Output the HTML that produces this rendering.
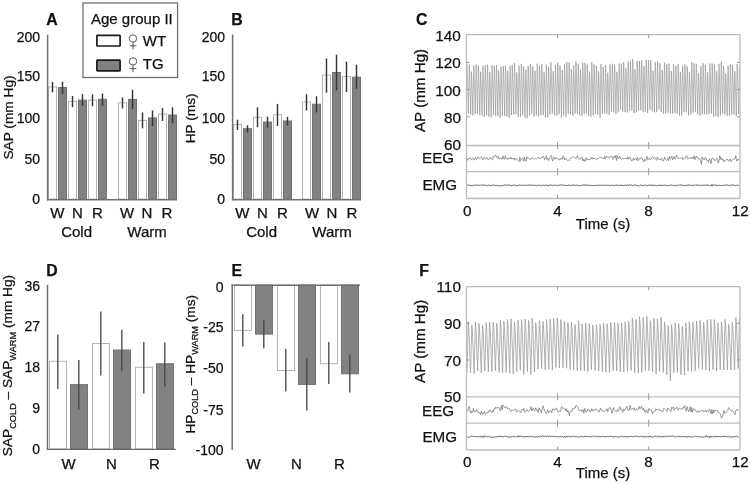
<!DOCTYPE html>
<html><head><meta charset="utf-8"><title>Figure</title>
<style>
html,body{margin:0;padding:0;background:#fff;width:750px;height:485px;overflow:hidden;}
svg{display:block;will-change:transform;}
text{font-family:"Liberation Sans",sans-serif;fill:#111;stroke:#111;stroke-width:0.25px;}
</style></head><body>
<svg width="750" height="485" viewBox="0 0 750 485">
<text x="46.3" y="25.3" font-size="15.8" text-anchor="start" font-weight="bold">A</text>
<rect x="48.5" y="87" width="8" height="112" fill="#fff" stroke="#b4b4b4" stroke-width="1"/>
<rect x="58.5" y="87.5" width="8" height="111.5" fill="#828282" stroke="#747474" stroke-width="1"/>
<rect x="68.5" y="101.4" width="8" height="97.6" fill="#fff" stroke="#b4b4b4" stroke-width="1"/>
<rect x="78.5" y="100.1" width="8" height="98.9" fill="#828282" stroke="#747474" stroke-width="1"/>
<rect x="88.5" y="100.1" width="8" height="98.9" fill="#fff" stroke="#b4b4b4" stroke-width="1"/>
<rect x="98.5" y="99.3" width="8" height="99.7" fill="#828282" stroke="#747474" stroke-width="1"/>
<line x1="52.5" y1="82" x2="52.5" y2="92.3" stroke="#353535" stroke-width="1.45"/>
<line x1="62.5" y1="81.6" x2="62.5" y2="94" stroke="#353535" stroke-width="1.45"/>
<line x1="72.5" y1="96" x2="72.5" y2="107.1" stroke="#353535" stroke-width="1.45"/>
<line x1="82.5" y1="94.1" x2="82.5" y2="105.9" stroke="#353535" stroke-width="1.45"/>
<line x1="92.5" y1="94.4" x2="92.5" y2="106.3" stroke="#353535" stroke-width="1.45"/>
<line x1="102.5" y1="93.5" x2="102.5" y2="106" stroke="#353535" stroke-width="1.45"/>
<rect x="118.5" y="102.8" width="8" height="96.2" fill="#fff" stroke="#b4b4b4" stroke-width="1"/>
<rect x="128.5" y="99.4" width="8" height="99.6" fill="#828282" stroke="#747474" stroke-width="1"/>
<rect x="138.5" y="120.4" width="8" height="78.6" fill="#fff" stroke="#b4b4b4" stroke-width="1"/>
<rect x="148.5" y="117.9" width="8" height="81.1" fill="#828282" stroke="#747474" stroke-width="1"/>
<rect x="158.5" y="114.1" width="8" height="84.9" fill="#fff" stroke="#b4b4b4" stroke-width="1"/>
<rect x="168.5" y="115" width="8" height="84" fill="#828282" stroke="#747474" stroke-width="1"/>
<line x1="122.5" y1="97.5" x2="122.5" y2="108.5" stroke="#353535" stroke-width="1.45"/>
<line x1="132.5" y1="89.7" x2="132.5" y2="109" stroke="#353535" stroke-width="1.45"/>
<line x1="142.5" y1="112.4" x2="142.5" y2="128.3" stroke="#353535" stroke-width="1.45"/>
<line x1="152.5" y1="110.4" x2="152.5" y2="126" stroke="#353535" stroke-width="1.45"/>
<line x1="162.5" y1="108.1" x2="162.5" y2="121" stroke="#353535" stroke-width="1.45"/>
<line x1="172.5" y1="107.3" x2="172.5" y2="123.2" stroke="#353535" stroke-width="1.45"/>
<line x1="47.6" y1="34.6" x2="47.6" y2="200.3" stroke="#707070" stroke-width="1.5"/>
<line x1="46.9" y1="199.7" x2="177" y2="199.7" stroke="#707070" stroke-width="1.6"/>
<text x="40" y="42" font-size="14" text-anchor="end">200</text>
<text x="40" y="81.4" font-size="14" text-anchor="end">150</text>
<text x="40" y="123" font-size="14" text-anchor="end">100</text>
<text x="40" y="164" font-size="14" text-anchor="end">50</text>
<text x="40" y="203.5" font-size="14" text-anchor="end">0</text>
<text x="57.3" y="218" font-size="15" text-anchor="middle">W</text>
<text x="77.3" y="218" font-size="15" text-anchor="middle">N</text>
<text x="97.3" y="218" font-size="15" text-anchor="middle">R</text>
<text x="127" y="218" font-size="15" text-anchor="middle">W</text>
<text x="147" y="218" font-size="15" text-anchor="middle">N</text>
<text x="167" y="218" font-size="15" text-anchor="middle">R</text>
<text x="76.6" y="236.5" font-size="15" text-anchor="middle">Cold</text>
<text x="147" y="236.5" font-size="15" text-anchor="middle">Warm</text>
<text transform="translate(13.2,117.5) rotate(-90)" font-size="13.7" text-anchor="middle">SAP (mm Hg)</text>
<text x="231.3" y="25.3" font-size="15.8" text-anchor="start" font-weight="bold">B</text>
<rect x="233.5" y="124.5" width="8" height="74.5" fill="#fff" stroke="#b4b4b4" stroke-width="1"/>
<rect x="243.5" y="128.7" width="8" height="70.3" fill="#828282" stroke="#747474" stroke-width="1"/>
<rect x="253.5" y="117.3" width="8" height="81.7" fill="#fff" stroke="#b4b4b4" stroke-width="1"/>
<rect x="263.5" y="122" width="8" height="77" fill="#828282" stroke="#747474" stroke-width="1"/>
<rect x="273.5" y="114.7" width="8" height="84.3" fill="#fff" stroke="#b4b4b4" stroke-width="1"/>
<rect x="283.5" y="121" width="8" height="78" fill="#828282" stroke="#747474" stroke-width="1"/>
<line x1="237.5" y1="119.7" x2="237.5" y2="130" stroke="#353535" stroke-width="1.45"/>
<line x1="247.5" y1="125.3" x2="247.5" y2="132.3" stroke="#353535" stroke-width="1.45"/>
<line x1="257.5" y1="107.3" x2="257.5" y2="127.3" stroke="#353535" stroke-width="1.45"/>
<line x1="267.5" y1="116.6" x2="267.5" y2="127.6" stroke="#353535" stroke-width="1.45"/>
<line x1="277.5" y1="103.9" x2="277.5" y2="126" stroke="#353535" stroke-width="1.45"/>
<line x1="287.5" y1="116.8" x2="287.5" y2="125.6" stroke="#353535" stroke-width="1.45"/>
<rect x="302.5" y="102.1" width="8" height="96.9" fill="#fff" stroke="#b4b4b4" stroke-width="1"/>
<rect x="312.5" y="104.2" width="8" height="94.8" fill="#828282" stroke="#747474" stroke-width="1"/>
<rect x="322.5" y="75.1" width="8" height="123.9" fill="#fff" stroke="#b4b4b4" stroke-width="1"/>
<rect x="332.5" y="72.5" width="8" height="126.5" fill="#828282" stroke="#747474" stroke-width="1"/>
<rect x="342.5" y="76.4" width="8" height="122.6" fill="#fff" stroke="#b4b4b4" stroke-width="1"/>
<rect x="352.5" y="77.2" width="8" height="121.8" fill="#828282" stroke="#747474" stroke-width="1"/>
<line x1="306.5" y1="94.2" x2="306.5" y2="110.5" stroke="#353535" stroke-width="1.45"/>
<line x1="316.5" y1="96.3" x2="316.5" y2="112.4" stroke="#353535" stroke-width="1.45"/>
<line x1="326.5" y1="58.5" x2="326.5" y2="92.7" stroke="#353535" stroke-width="1.45"/>
<line x1="336.5" y1="54.7" x2="336.5" y2="90.2" stroke="#353535" stroke-width="1.45"/>
<line x1="346.5" y1="61.6" x2="346.5" y2="92" stroke="#353535" stroke-width="1.45"/>
<line x1="356.5" y1="64.8" x2="356.5" y2="88.8" stroke="#353535" stroke-width="1.45"/>
<line x1="232.6" y1="34.6" x2="232.6" y2="200.3" stroke="#707070" stroke-width="1.5"/>
<line x1="231.9" y1="199.7" x2="361" y2="199.7" stroke="#707070" stroke-width="1.6"/>
<text x="225" y="42" font-size="14" text-anchor="end">200</text>
<text x="225" y="81.4" font-size="14" text-anchor="end">150</text>
<text x="225" y="123" font-size="14" text-anchor="end">100</text>
<text x="225" y="164" font-size="14" text-anchor="end">50</text>
<text x="225" y="203.5" font-size="14" text-anchor="end">0</text>
<text x="242.3" y="218" font-size="15" text-anchor="middle">W</text>
<text x="262.3" y="218" font-size="15" text-anchor="middle">N</text>
<text x="282.3" y="218" font-size="15" text-anchor="middle">R</text>
<text x="312" y="218" font-size="15" text-anchor="middle">W</text>
<text x="332" y="218" font-size="15" text-anchor="middle">N</text>
<text x="352" y="218" font-size="15" text-anchor="middle">R</text>
<text x="261.6" y="236.5" font-size="15" text-anchor="middle">Cold</text>
<text x="332" y="236.5" font-size="15" text-anchor="middle">Warm</text>
<text transform="translate(194.5,118.3) rotate(-90)" font-size="13.7" text-anchor="middle">HP (ms)</text>
<rect x="83" y="3" width="94.6" height="74.5" fill="#fff" stroke="#707070" stroke-width="1.3"/>
<text x="91" y="23.6" font-size="15" text-anchor="start">Age group II</text>
<rect x="96.9" y="35.4" width="23.2" height="10.6" rx="0.6" fill="#fff" stroke="#1a1a1a" stroke-width="1.7"/>
<rect x="96.9" y="60.2" width="23.2" height="10.6" rx="0.6" fill="#808080" stroke="#1a1a1a" stroke-width="1.7"/>
<circle cx="133" cy="38.5" r="3.7" fill="none" stroke="#3a3a3a" stroke-width="0.85"/>
<line x1="133" y1="42.2" x2="133" y2="49.3" stroke="#3a3a3a" stroke-width="0.85"/>
<line x1="129.6" y1="45.8" x2="136.4" y2="45.8" stroke="#3a3a3a" stroke-width="0.85"/>
<circle cx="133" cy="61.4" r="3.7" fill="none" stroke="#3a3a3a" stroke-width="0.85"/>
<line x1="133" y1="65.1" x2="133" y2="72.2" stroke="#3a3a3a" stroke-width="0.85"/>
<line x1="129.6" y1="68.7" x2="136.4" y2="68.7" stroke="#3a3a3a" stroke-width="0.85"/>
<text x="142.8" y="46" font-size="15" text-anchor="start">WT</text>
<text x="142.8" y="69" font-size="15" text-anchor="start">TG</text>
<text x="46.3" y="275.5" font-size="15.8" text-anchor="start" font-weight="bold">D</text>
<rect x="49.5" y="361.3" width="17" height="87.7" fill="#fff" stroke="#b4b4b4" stroke-width="1"/>
<rect x="70.5" y="384.6" width="17" height="64.4" fill="#828282" stroke="#747474" stroke-width="1"/>
<rect x="92.5" y="343.5" width="17" height="105.5" fill="#fff" stroke="#b4b4b4" stroke-width="1"/>
<rect x="113.5" y="350" width="17" height="99" fill="#828282" stroke="#747474" stroke-width="1"/>
<rect x="135.5" y="367.3" width="17" height="81.7" fill="#fff" stroke="#b4b4b4" stroke-width="1"/>
<rect x="156.5" y="363.8" width="17" height="85.2" fill="#828282" stroke="#747474" stroke-width="1"/>
<line x1="57.8" y1="334.6" x2="57.8" y2="389" stroke="#484848" stroke-width="1.35"/>
<line x1="78.8" y1="359.9" x2="78.8" y2="409.6" stroke="#484848" stroke-width="1.35"/>
<line x1="100.8" y1="311.6" x2="100.8" y2="375.4" stroke="#484848" stroke-width="1.35"/>
<line x1="121.8" y1="329.7" x2="121.8" y2="371.2" stroke="#484848" stroke-width="1.35"/>
<line x1="143.8" y1="342" x2="143.8" y2="393.5" stroke="#484848" stroke-width="1.35"/>
<line x1="164.8" y1="342.5" x2="164.8" y2="386.6" stroke="#484848" stroke-width="1.35"/>
<line x1="47.5" y1="284.8" x2="47.5" y2="450" stroke="#707070" stroke-width="1.5"/>
<line x1="46.8" y1="449.4" x2="175.8" y2="449.4" stroke="#666" stroke-width="1.25"/>
<text x="40" y="291" font-size="14" text-anchor="end">36</text>
<text x="40" y="331.3" font-size="14" text-anchor="end">27</text>
<text x="40" y="372.2" font-size="14" text-anchor="end">18</text>
<text x="40" y="413.4" font-size="14" text-anchor="end">9</text>
<text x="40" y="453.5" font-size="14" text-anchor="end">0</text>
<text x="68.5" y="468.5" font-size="15" text-anchor="middle">W</text>
<text x="111.5" y="468.5" font-size="15" text-anchor="middle">N</text>
<text x="154.5" y="468.5" font-size="15" text-anchor="middle">R</text>
<text transform="translate(12,365.5) rotate(-90)" font-size="13.7" text-anchor="middle">SAP<tspan font-size="9.2" dy="3.8">COLD</tspan><tspan dy="-3.8"> – SAP</tspan><tspan font-size="9.2" dy="3.8">WARM</tspan><tspan dy="-3.8"> (mm Hg)</tspan></text>
<text x="231.5" y="275.5" font-size="15.8" text-anchor="start" font-weight="bold">E</text>
<rect x="234.5" y="285" width="17" height="45.4" fill="#fff" stroke="#b4b4b4" stroke-width="1"/>
<rect x="255.5" y="285" width="17" height="49.1" fill="#828282" stroke="#747474" stroke-width="1"/>
<rect x="277.5" y="285" width="17" height="85.5" fill="#fff" stroke="#b4b4b4" stroke-width="1"/>
<rect x="298.5" y="285" width="17" height="99.5" fill="#828282" stroke="#747474" stroke-width="1"/>
<rect x="320.5" y="285" width="17" height="78.7" fill="#fff" stroke="#b4b4b4" stroke-width="1"/>
<rect x="341.5" y="285" width="17" height="88.8" fill="#828282" stroke="#747474" stroke-width="1"/>
<line x1="242.8" y1="314.3" x2="242.8" y2="346.5" stroke="#484848" stroke-width="1.35"/>
<line x1="263.8" y1="320.3" x2="263.8" y2="348.2" stroke="#484848" stroke-width="1.35"/>
<line x1="285.8" y1="349" x2="285.8" y2="391.5" stroke="#484848" stroke-width="1.35"/>
<line x1="306.8" y1="358" x2="306.8" y2="410.5" stroke="#484848" stroke-width="1.35"/>
<line x1="328.8" y1="342" x2="328.8" y2="384" stroke="#484848" stroke-width="1.35"/>
<line x1="349.8" y1="354.5" x2="349.8" y2="392.6" stroke="#484848" stroke-width="1.35"/>
<line x1="232.2" y1="284.6" x2="232.2" y2="450" stroke="#707070" stroke-width="1.5"/>
<line x1="231.6" y1="285.3" x2="360" y2="285.3" stroke="#707070" stroke-width="1.6"/>
<text x="223.5" y="291.5" font-size="14" text-anchor="end">0</text>
<text x="223.5" y="332.2" font-size="14" text-anchor="end">-25</text>
<text x="223.5" y="373.3" font-size="14" text-anchor="end">-50</text>
<text x="223.5" y="414.5" font-size="14" text-anchor="end">-75</text>
<text x="223.5" y="454.9" font-size="14" text-anchor="end">-100</text>
<text x="253.5" y="469" font-size="15" text-anchor="middle">W</text>
<text x="296.5" y="469" font-size="15" text-anchor="middle">N</text>
<text x="339.5" y="469" font-size="15" text-anchor="middle">R</text>
<text transform="translate(194.7,364.2) rotate(-90)" font-size="13.7" text-anchor="middle">HP<tspan font-size="9.2" dy="3.3">COLD</tspan><tspan dy="-3.3"> – HP</tspan><tspan font-size="9.2" dy="3.3">WARM</tspan><tspan dy="-3.3"> (ms)</tspan></text>
<text x="415.9" y="25.1" font-size="15.8" text-anchor="start" font-weight="bold">C</text>
<polyline points="466.93,62.44 467.28,67.68 468.44,113.37 469.23,64.56 469.56,69.44 470.69,113.98 471.47,71.59 471.8,75.83 472.92,115.46 473.74,65.41 474.09,70.42 475.26,113.73 476.05,64.33 476.39,69.27 477.53,113.85 478.32,65.49 478.66,70.33 479.79,115.38 480.59,71.72 480.93,76.09 482.08,115.8 482.89,65.68 483.23,70.69 484.38,117.18 485.18,65.54 485.52,70.7 486.65,115.59 487.44,64.77 487.78,69.85 488.91,116.78 489.7,71.83 490.04,76.33 491.16,117.47 491.96,65.21 492.3,70.44 493.45,114.79 494.22,66.02 494.55,70.9 495.65,115.78 496.43,65.29 496.77,70.34 497.88,116.34 498.68,70.67 499.01,75.23 500.14,118.04 500.94,66.58 501.28,71.73 502.41,115.95 503.21,66.11 503.55,71.1 504.69,115.86 505.47,65.59 505.81,70.62 506.94,116.6 507.73,70.88 508.07,75.45 509.2,117.72 509.98,65.87 510.31,71.06 511.41,115.17 512.2,65.06 512.53,70.07 513.65,114.28 514.45,62.97 514.79,68.1 515.93,114.09 516.74,72.46 517.08,76.63 518.22,116.55 519.01,65.55 519.35,70.65 520.48,116.43 521.29,63.8 521.63,69.06 522.79,115.11 523.57,66.36 523.91,71.23 525.03,117.88 525.82,69.63 526.16,74.45 527.29,118.23 528.09,65.83 528.44,71.07 529.58,115.18 530.38,64.17 530.72,69.27 531.86,113.61 532.65,66.14 532.98,70.89 534.11,116.36 534.9,70.89 535.24,75.43 536.37,115.29 537.17,63.64 537.51,68.81 538.65,116.67 539.44,65.84 539.78,70.92 540.92,115.28 541.72,64.27 542.06,69.37 543.19,115.23 543.99,71.91 544.33,76.24 545.46,117.4 546.25,64.55 546.6,69.84 547.73,117.2 548.53,66.82 548.87,71.86 550.01,114.42 550.81,62.04 551.16,67.28 552.31,113.55 553.1,71.18 553.44,75.42 554.57,115.33 555.37,64.93 555.72,69.97 556.86,115.47 557.65,62.69 557.99,67.97 559.11,114.33 559.91,65.36 560.25,70.25 561.4,117.37 562.2,70.1 562.54,74.83 563.68,115.32 564.48,64.42 564.83,69.51 565.97,116.68 566.76,61.99 567.1,67.46 568.24,113.86 569.04,62.51 569.38,67.64 570.52,114.49 571.32,69.15 571.66,73.68 572.8,115.92 573.6,65.38 573.94,70.43 575.08,113.59 575.87,61.63 576.21,66.82 577.34,114.09 578.14,63.66 578.48,68.71 579.62,115.35 580.42,70.07 580.76,74.6 581.9,116.04 582.68,62.66 583.02,68 584.14,113.89 584.92,62.79 585.26,67.9 586.39,113.45 587.18,64.39 587.52,69.3 588.65,115.6 589.44,71.6 589.78,76 590.92,116.57 591.72,62.08 592.07,67.53 593.23,115.3 594.02,64.43 594.35,69.52 595.48,113.79 596.29,65.57 596.63,70.39 597.78,114.63 598.59,71.51 598.93,75.82 600.09,117.62 600.89,64.21 601.23,69.55 602.37,113.84 603.18,66.92 603.52,71.61 604.67,113.54 605.46,65.01 605.8,69.87 606.93,113.66 607.72,72.67 608.06,76.76 609.18,115.06 609.99,64.39 610.34,69.45 611.49,111.69 612.28,63.72 612.62,68.52 613.75,112.4 614.53,64.37 614.87,69.18 615.99,113.87 616.79,71.72 617.13,75.93 618.26,112.3 619.06,63.51 619.4,68.39 620.54,109.47 621.32,63.51 621.66,68.11 622.77,111.66 623.57,62.28 623.92,67.22 625.06,112.12 625.85,68.34 626.19,72.72 627.33,112.51 628.12,61.46 628.45,66.57 629.58,110.41 630.38,61.15 630.72,66.08 631.85,110.38 632.64,59 632.98,64.14 634.12,113.02 634.9,69.35 635.24,73.72 636.36,112.35 637.14,60.9 637.47,66.04 638.58,110.83 639.37,60.97 639.71,65.96 640.83,110.37 641.61,60.11 641.95,65.13 643.06,112.28 643.86,66.26 644.2,70.86 645.33,111.83 646.13,59.66 646.48,64.88 647.62,113.06 648.41,60.27 648.75,65.55 649.89,109.73 650.68,59.99 651.03,64.97 652.16,111.51 652.96,70.74 653.3,74.82 654.43,112.44 655.23,62.37 655.57,67.38 656.7,112.12 657.52,61.59 657.87,66.64 659.03,109.67 659.82,63.14 660.16,67.8 661.3,112.32 662.11,70.05 662.45,74.27 663.61,113.82 664.4,62.61 664.73,67.73 665.86,113.48 666.66,64.29 667,69.21 668.15,112.64 668.95,63.68 669.29,68.57 670.44,114.01 671.24,71.04 671.58,75.34 672.72,113.84 673.53,64.11 673.87,69.08 675.02,112.96 675.82,65.8 676.16,70.52 677.31,114 678.1,63.89 678.44,68.9 679.57,115.47 680.35,71.94 680.69,76.29 681.8,115.53 682.59,65.72 682.93,70.7 684.05,112.28 684.84,64.47 685.18,69.25 686.31,112.3 687.1,66.21 687.44,70.82 688.57,115.48 689.38,71.77 689.72,76.14 690.88,114.65 691.68,62.32 692.02,67.55 693.15,112.67 693.95,63.35 694.29,68.28 695.43,111.74 696.22,63.88 696.57,68.67 697.7,114.29 698.49,72.84 698.83,76.99 699.96,115.48 700.76,66.08 701.1,71.02 702.25,114.2 703.04,63.2 703.37,68.3 704.49,114.21 705.3,64.8 705.64,69.74 706.78,114.52 707.58,72.29 707.91,76.51 709.04,114.1 709.84,63.26 710.18,68.34 711.31,113.51 712.1,63.39 712.44,68.4 713.57,116.8 714.37,64.43 714.71,69.66 715.85,116 716.65,71.36 717,75.82 718.14,117 718.94,63.86 719.28,69.17 720.42,115.45 721.21,61.43 721.55,66.83 722.67,113.41 723.46,65.96 723.8,70.7 724.93,114.25 725.71,73.42 726.05,77.5 727.17,116.06 727.97,65.83 728.31,70.85 729.45,115.52 730.24,64.37 730.58,69.48 731.71,114.63 732.5,64.85 732.84,69.83 733.97,114.39 734.78,71.28 735.13,75.59 736.29,116.23 737.09,63.74 737.43,68.99 738.58,113.99 739.37,65.2" fill="none" stroke="#858585" stroke-width="0.55" stroke-linejoin="miter" stroke-miterlimit="2"/>
<polyline points="467,160.91 467.8,158.37 468.6,159.31 469.4,158.01 470.2,157.9 471,159.25 471.8,159.66 472.6,158.38 473.4,158.53 474.2,160.21 475,158.17 475.8,157.23 476.6,159.63 477.4,158.47 478.2,156.75 479,158.47 479.8,158.63 480.6,157.65 481.4,156.89 482.2,158.86 483,159.82 483.8,157.87 484.6,157.08 485.4,158.84 486.2,158.92 487,157.62 487.8,159.39 488.6,159.85 489.4,158.41 490.2,157.26 491,158.87 491.8,158.79 492.6,159.49 493.4,156.08 494.2,156.85 495,156.34 495.8,155.01 496.6,157.51 497.4,158.08 498.2,156.24 499,158.99 499.8,158.36 500.6,158.11 501.4,158.24 502.2,159.26 503,156.07 503.8,159 504.6,159.04 505.4,155.55 506.2,158.87 507,158.06 507.8,159.47 508.6,158.02 509.4,158.26 510.2,159.02 511,156.99 511.8,159.16 512.6,158.21 513.4,159.28 514.2,157.85 515,160.35 515.8,159.66 516.6,158.34 517.4,159.71 518.2,160.75 519,161.71 519.8,157.03 520.6,160.7 521.4,159.61 522.2,158.73 523,157.73 523.8,161.2 524.6,157.45 525.4,160.32 526.2,161.16 527,156.76 527.8,158.53 528.6,157.93 529.4,158.61 530.2,159.16 531,159.38 531.8,157.73 532.6,158.25 533.4,158.81 534.2,159.19 535,158.68 535.8,158.17 536.6,158.99 537.4,158.29 538.2,157.66 539,157.24 539.8,158.79 540.6,158.47 541.4,157.94 542.2,157.79 543,156.13 543.8,157.19 544.6,159.71 545.4,157.34 546.2,155.63 547,159.49 547.8,158.19 548.6,160.76 549.4,157.46 550.2,156.77 551,155.27 551.8,158.64 552.6,161.11 553.4,156.85 554.2,157.63 555,159.38 555.8,157.44 556.6,158.34 557.4,158.1 558.2,159.21 559,160.16 559.8,158.53 560.6,159.65 561.4,158.05 562.2,159.15 563,155.64 563.8,156.85 564.6,159.78 565.4,157.81 566.2,159.61 567,159.54 567.8,160.81 568.6,160.05 569.4,160.48 570.2,158.8 571,157.62 571.8,157.38 572.6,157.38 573.4,156.59 574.2,157.52 575,158.2 575.8,158.9 576.6,157.65 577.4,155.48 578.2,157.93 579,158.26 579.8,159.44 580.6,159.14 581.4,157.46 582.2,157.31 583,161.09 583.8,159.08 584.6,161.12 585.4,161.63 586.2,157.5 587,159.66 587.8,159.49 588.6,159.49 589.4,159.47 590.2,159 591,159.22 591.8,156.98 592.6,159.19 593.4,157.96 594.2,159 595,158.07 595.8,159.27 596.6,159.57 597.4,158.71 598.2,158.52 599,158.41 599.8,157.54 600.6,157.81 601.4,157.43 602.2,158.49 603,158.18 603.8,159.09 604.6,155.91 605.4,159.15 606.2,156.51 607,156.45 607.8,157.09 608.6,156.91 609.4,158.26 610.2,156.52 611,155.86 611.8,156.44 612.6,159.33 613.4,157.96 614.2,156.03 615,157.75 615.8,155.35 616.6,160.54 617.4,155.62 618.2,158.21 619,158.41 619.8,156.13 620.6,158.52 621.4,159.37 622.2,158.65 623,158.05 623.8,159.11 624.6,158.48 625.4,158.55 626.2,158.16 627,159.19 627.8,156.85 628.6,159.42 629.4,157.79 630.2,157.14 631,159.43 631.8,161.08 632.6,160.13 633.4,158.08 634.2,160.22 635,158.56 635.8,159.62 636.6,160.08 637.4,157.08 638.2,160.95 639,158.81 639.8,159.08 640.6,157.89 641.4,157.71 642.2,158.32 643,160.92 643.8,161.79 644.6,159.33 645.4,160.99 646.2,158.9 647,156.41 647.8,159.88 648.6,159.76 649.4,158.12 650.2,159.32 651,159.49 651.8,157.48 652.6,156.53 653.4,158.13 654.2,158.03 655,157.85 655.8,159.5 656.6,160.21 657.4,156.93 658.2,158.88 659,159.93 659.8,159.31 660.6,160.02 661.4,158.17 662.2,159.63 663,161.21 663.8,159.45 664.6,157.06 665.4,159.48 666.2,160.53 667,159.49 667.8,157.87 668.6,160.74 669.4,156.26 670.2,159.03 671,158.22 671.8,156.18 672.6,159.98 673.4,158.38 674.2,156.46 675,159.21 675.8,157.59 676.6,155.37 677.4,157.29 678.2,158.41 679,158.69 679.8,157.88 680.6,157.79 681.4,158.16 682.2,157.47 683,159.64 683.8,158.41 684.6,158.3 685.4,158.16 686.2,155.69 687,156.1 687.8,159.16 688.6,158.19 689.4,157.66 690.2,158.17 691,157.2 691.8,158.85 692.6,157.24 693.4,158.72 694.2,155.83 695,159.66 695.8,157.06 696.6,156 697.4,157.9 698.2,158.06 699,159.32 699.8,158.35 700.6,160.31 701.4,164.35 702.2,156.91 703,159.4 703.8,158.85 704.6,160.01 705.4,157.11 706.2,158.52 707,160.74 707.8,160.04 708.6,162.28 709.4,158.78 710.2,160.17 711,163.95 711.8,158.28 712.6,157.98 713.4,159.3 714.2,159.17 715,160.81 715.8,159.69 716.6,158.01 717.4,159.72 718.2,163.12 719,161.34 719.8,155.71 720.6,159.36 721.4,157.87 722.2,160.2 723,159.15 723.8,161.94 724.6,160.42 725.4,160.62 726.2,159.48 727,158.95 727.8,159.97 728.6,161.26 729.4,160.22 730.2,158.97 731,161.61 731.8,160.24 732.6,159.66 733.4,158.74 734.2,159.15 735,158.81 735.8,155.71 736.6,161.08 737.4,160.21 738.2,159.01 739,160.5" fill="none" stroke="#707070" stroke-width="0.7" stroke-linejoin="miter" stroke-miterlimit="2"/>
<polyline points="467,185.29 467.7,185.45 468.4,184.72 469.1,185.34 469.8,185.03 470.5,185.84 471.2,185.57 471.9,185.59 472.6,185.28 473.3,185.49 474,185.5 474.7,185.2 475.4,185.15 476.1,185.27 476.8,185.12 477.5,185.12 478.2,185.21 478.9,185.08 479.6,185.53 480.3,184.82 481,185.55 481.7,185.11 482.4,185.14 483.1,184.89 483.8,185.26 484.5,185.23 485.2,185.36 485.9,185.14 486.6,185.33 487.3,185.85 488,185.42 488.7,185.13 489.4,185.59 490.1,185.26 490.8,185.48 491.5,185.49 492.2,185.18 492.9,184.72 493.6,185.2 494.3,185.47 495,185.19 495.7,185.43 496.4,185.6 497.1,185.14 497.8,185.67 498.5,185.79 499.2,185.63 499.9,185.65 500.6,185.63 501.3,185.98 502,185.36 502.7,185.3 503.4,185.48 504.1,185.03 504.8,184.83 505.5,185.03 506.2,185.41 506.9,185.44 507.6,184.84 508.3,184.73 509,185.2 509.7,185.24 510.4,185.29 511.1,185.5 511.8,185.67 512.5,185.37 513.2,185.49 513.9,184.97 514.6,184.94 515.3,185.37 516,185.5 516.7,185.52 517.4,185.48 518.1,185.54 518.8,185.54 519.5,184.77 520.2,185.08 520.9,185.44 521.6,185.48 522.3,184.84 523,185.65 523.7,185.17 524.4,185.23 525.1,185.38 525.8,185.53 526.5,184.87 527.2,185.6 527.9,185.32 528.6,185.07 529.3,185.22 530,184.64 530.7,185.1 531.4,185.35 532.1,185.09 532.8,185.2 533.5,185.26 534.2,185.31 534.9,185.61 535.6,185.29 536.3,185.22 537,185.46 537.7,185.93 538.4,185.2 539.1,185.45 539.8,184.82 540.5,185.71 541.2,185.5 541.9,185.7 542.6,185.28 543.3,184.99 544,185.57 544.7,185.53 545.4,185.04 546.1,184.86 546.8,185.44 547.5,185.25 548.2,186.09 548.9,185.11 549.6,185.14 550.3,185.27 551,184.8 551.7,185.03 552.4,185.8 553.1,185.26 553.8,185.12 554.5,184.92 555.2,185.48 555.9,185.5 556.6,185.38 557.3,185.18 558,185.39 558.7,185.42 559.4,185.09 560.1,185.49 560.8,184.66 561.5,184.91 562.2,185.21 562.9,185.27 563.6,184.95 564.3,185.4 565,185.62 565.7,185.44 566.4,185.37 567.1,185.55 567.8,185.42 568.5,184.96 569.2,185.24 569.9,185.69 570.6,184.96 571.3,185.32 572,185.18 572.7,185.03 573.4,184.99 574.1,185.33 574.8,185.4 575.5,185.39 576.2,184.86 576.9,185.21 577.6,185.4 578.3,185.59 579,185.5 579.7,185.55 580.4,185.63 581.1,185.55 581.8,185.05 582.5,185.32 583.2,185.08 583.9,184.58 584.6,184.79 585.3,185.93 586,184.96 586.7,184.62 587.4,185.12 588.1,185.76 588.8,185.29 589.5,185.42 590.2,185.22 590.9,185.27 591.6,185.68 592.3,185.54 593,185.27 593.7,185.57 594.4,185.62 595.1,185.23 595.8,185.38 596.5,185.38 597.2,185.1 597.9,185.65 598.6,185.25 599.3,185.11 600,184.79 600.7,184.92 601.4,185.76 602.1,184.96 602.8,185.43 603.5,185.19 604.2,185.45 604.9,185.48 605.6,185.07 606.3,185.21 607,185.33 607.7,185.33 608.4,185.29 609.1,185.21 609.8,185.49 610.5,185.7 611.2,185.46 611.9,185.08 612.6,185.42 613.3,185.32 614,185.44 614.7,185.86 615.4,185.24 616.1,185.3 616.8,185.03 617.5,185.21 618.2,185.13 618.9,185.78 619.6,185.39 620.3,185.13 621,185.88 621.7,184.9 622.4,185.56 623.1,185.61 623.8,185.47 624.5,185.22 625.2,185.26 625.9,185.2 626.6,185.54 627.3,184.6 628,185.15 628.7,185.35 629.4,185.12 630.1,184.75 630.8,185.23 631.5,185.07 632.2,185.54 632.9,185.72 633.6,185.32 634.3,184.72 635,185.24 635.7,185.02 636.4,185.51 637.1,185.81 637.8,185.4 638.5,185.91 639.2,185.76 639.9,185.51 640.6,185.04 641.3,185.36 642,184.9 642.7,185.65 643.4,185.37 644.1,185.75 644.8,185.43 645.5,184.76 646.2,185.54 646.9,185.62 647.6,185.85 648.3,185.05 649,185.07 649.7,185.36 650.4,185.03 651.1,184.93 651.8,185.01 652.5,186.12 653.2,185.15 653.9,185.03 654.6,185.2 655.3,185.33 656,185.72 656.7,185.62 657.4,185.57 658.1,185.34 658.8,185.38 659.5,185.14 660.2,184.88 660.9,185.95 661.6,185.19 662.3,185.64 663,185.23 663.7,185.3 664.4,185.28 665.1,184.91 665.8,185.31 666.5,185.44 667.2,185.58 667.9,185.48 668.6,185.64 669.3,185.42 670,185.33 670.7,184.73 671.4,185.16 672.1,185.8 672.8,185.36 673.5,185.57 674.2,185.26 674.9,185.12 675.6,185.94 676.3,185.43 677,185.78 677.7,185.49 678.4,185.24 679.1,184.65 679.8,185.35 680.5,184.85 681.2,184.65 681.9,185.7 682.6,185.54 683.3,185.52 684,185.34 684.7,185.31 685.4,185.45 686.1,185.37 686.8,185.35 687.5,185.55 688.2,184.58 688.9,185.59 689.6,185.13 690.3,185.58 691,185.68 691.7,185.07 692.4,185.56 693.1,185.56 693.8,185.1 694.5,185.15 695.2,185.34 695.9,184.63 696.6,185.17 697.3,185.36 698,185.17 698.7,184.82 699.4,185.19 700.1,185.76 700.8,185.7 701.5,185.27 702.2,185.06 702.9,185.3 703.6,185.31 704.3,185.1 705,185.2 705.7,185.49 706.4,185.58 707.1,184.56 707.8,185.6 708.5,185.34 709.2,185.65 709.9,185.3 710.6,185.43 711.3,185.8 712,184.4 712.7,185.78 713.4,185.36 714.1,184.75 714.8,184.5 715.5,185.4 716.2,184.99 716.9,185.6 717.6,185.37 718.3,185.26 719,185.6 719.7,185.36 720.4,185.53 721.1,185.55 721.8,185.4 722.5,185.54 723.2,185.54 723.9,184.89 724.6,185.22 725.3,185.26 726,185.19 726.7,184.82 727.4,185.13 728.1,185.4 728.8,185.36 729.5,185.76 730.2,185.12 730.9,185.17 731.6,185.13 732.3,185.2 733,185.12 733.7,184.74 734.4,185.4 735.1,185.6 735.8,185.64 736.5,184.97 737.2,185.24 737.9,185.86 738.6,185.27 739.3,185.41" fill="none" stroke="#555" stroke-width="0.95" stroke-linejoin="miter" stroke-miterlimit="2"/>
<line x1="466.5" y1="34.6" x2="740" y2="34.6" stroke="#bcbcbc" stroke-width="1.3"/>
<line x1="466.5" y1="145.5" x2="740" y2="145.5" stroke="#bcbcbc" stroke-width="1.3"/>
<line x1="466.5" y1="171.7" x2="740" y2="171.7" stroke="#bcbcbc" stroke-width="1.3"/>
<line x1="466.5" y1="198.5" x2="740" y2="198.5" stroke="#bcbcbc" stroke-width="1.3"/>
<line x1="466.5" y1="34.6" x2="466.5" y2="198.5" stroke="#bcbcbc" stroke-width="1.3"/>
<line x1="740" y1="34.6" x2="740" y2="198.5" stroke="#bcbcbc" stroke-width="1.3"/>
<line x1="557.6" y1="34.6" x2="557.6" y2="38.1" stroke="#9a9a9a" stroke-width="1"/>
<line x1="557.6" y1="142" x2="557.6" y2="149" stroke="#9a9a9a" stroke-width="1"/>
<line x1="557.6" y1="168.2" x2="557.6" y2="175.2" stroke="#9a9a9a" stroke-width="1"/>
<line x1="557.6" y1="195" x2="557.6" y2="198.5" stroke="#9a9a9a" stroke-width="1"/>
<line x1="648.7" y1="34.6" x2="648.7" y2="38.1" stroke="#9a9a9a" stroke-width="1"/>
<line x1="648.7" y1="142" x2="648.7" y2="149" stroke="#9a9a9a" stroke-width="1"/>
<line x1="648.7" y1="168.2" x2="648.7" y2="175.2" stroke="#9a9a9a" stroke-width="1"/>
<line x1="648.7" y1="195" x2="648.7" y2="198.5" stroke="#9a9a9a" stroke-width="1"/>
<line x1="466.5" y1="62.4" x2="469.5" y2="62.4" stroke="#9a9a9a" stroke-width="1"/>
<line x1="737" y1="62.4" x2="740" y2="62.4" stroke="#9a9a9a" stroke-width="1"/>
<line x1="466.5" y1="89.6" x2="469.5" y2="89.6" stroke="#9a9a9a" stroke-width="1"/>
<line x1="737" y1="89.6" x2="740" y2="89.6" stroke="#9a9a9a" stroke-width="1"/>
<line x1="466.5" y1="116.8" x2="469.5" y2="116.8" stroke="#9a9a9a" stroke-width="1"/>
<line x1="737" y1="116.8" x2="740" y2="116.8" stroke="#9a9a9a" stroke-width="1"/>
<text x="460.9" y="41.05" font-size="15.3" text-anchor="end">140</text>
<text x="460.9" y="68.05" font-size="15.3" text-anchor="end">120</text>
<text x="460.9" y="95.55" font-size="15.3" text-anchor="end">100</text>
<text x="460.9" y="123.05" font-size="15.3" text-anchor="end">80</text>
<text x="460.9" y="150.45" font-size="15.3" text-anchor="end">60</text>
<text x="454.2" y="163.4" font-size="15.2" text-anchor="end">EEG</text>
<text x="457" y="190.4" font-size="15.2" text-anchor="end">EMG</text>
<text x="467.2" y="216.2" font-size="15.3" text-anchor="middle">0</text>
<text x="557.5" y="216.2" font-size="15.3" text-anchor="middle">4</text>
<text x="648.5" y="216.2" font-size="15.3" text-anchor="middle">8</text>
<text x="740.3" y="216.2" font-size="15.3" text-anchor="middle">12</text>
<text x="603" y="228.6" font-size="15" text-anchor="middle">Time (s)</text>
<text transform="translate(425,90.45) rotate(-90)" font-size="15.2" text-anchor="middle">AP (mm Hg)</text>
<text x="419.2" y="275.6" font-size="15.8" text-anchor="start" font-weight="bold">F</text>
<polyline points="467,372.18 468.24,321.78 468.77,326.82 470.54,372.67 471.8,324.82 472.33,329.61 474.13,373.53 475.37,322.17 475.9,327.31 477.68,370.98 478.95,323.39 479.49,328.15 481.31,372.88 482.54,324.96 483.07,329.75 484.84,371.13 486.07,322.62 486.59,327.47 488.35,371.74 489.59,321.94 490.12,326.92 491.9,371.93 493.15,322.23 493.69,327.2 495.49,370.59 496.74,323.05 497.28,327.8 499.07,372.53 500.32,320.35 500.85,325.57 502.63,372.73 503.87,321.3 504.39,326.45 506.16,372.3 507.4,319.57 507.94,324.85 509.71,373.13 510.95,318.83 511.48,324.26 513.25,373.8 514.48,321.77 515.01,326.97 516.78,371.46 518,320.26 518.53,325.38 520.27,370.34 521.52,319.63 522.06,324.7 523.85,374.2 525.09,319.17 525.63,324.67 527.41,371.55 528.64,320.46 529.17,325.57 530.94,374.51 532.18,318.41 532.71,324.02 534.49,372.04 535.75,322.66 536.29,327.6 538.08,368.98 539.34,320.59 539.88,325.43 541.68,368.48 542.93,321.26 543.47,325.98 545.25,369.79 546.5,319.47 547.04,324.5 548.83,369.32 550.07,319.3 550.61,324.3 552.39,370.16 553.64,318.38 554.17,323.55 555.96,367.33 557.19,317.94 557.72,322.88 559.48,367.74 560.74,319.6 561.29,324.41 563.09,368.01 564.32,321.43 564.85,326.09 566.62,368.27 567.85,322.48 568.38,327.06 570.14,369.69 571.39,322.23 571.92,326.98 573.7,370.04 574.95,324.39 575.48,328.95 577.27,370.89 578.5,320.67 579.03,325.69 580.79,370.91 582.04,323.8 582.57,328.51 584.35,370.9 585.59,322.92 586.13,327.72 587.9,371.76 589.15,323.77 589.69,328.57 591.48,369.64 592.75,325.09 593.3,329.54 595.12,370.53 596.39,324.84 596.93,329.41 598.75,371.01 600.01,324.32 600.55,328.99 602.35,371.94 603.59,322.93 604.12,327.83 605.9,372.48 607.16,323.72 607.7,328.59 609.51,372.33 610.78,322.48 611.33,327.46 613.14,370.51 614.39,322.36 614.92,327.17 616.7,370.97 617.95,323.48 618.49,328.23 620.27,371.87 621.52,323.03 622.06,327.91 623.84,371.94 625.1,321.87 625.64,326.87 627.45,371.3 628.72,321.13 629.26,326.15 631.08,370.51 632.34,318.12 632.88,323.36 634.68,372.78 635.94,319.32 636.47,324.67 638.27,373.12 639.52,316.6 640.06,322.25 641.84,372.53 643.11,317.12 643.65,322.66 645.45,370.68 646.7,316.14 647.24,321.6 649.02,370.67 650.27,320.57 650.8,325.58 652.58,371.68 653.82,318.14 654.36,323.49 656.14,374.01 657.38,318.78 657.91,324.31 659.67,371.47 660.93,317.29 661.47,322.71 663.27,372.51 664.52,322.09 665.05,327.13 666.84,374.88 668.07,325.71 668.6,330.63 670.35,381 671.59,324.51 672.12,330.16 673.89,372.72 675.11,322.78 675.63,327.77 677.37,372.23 678.63,323.5 679.17,328.37 680.96,374.71 682.21,326.23 682.75,331.07 684.53,375.05 685.78,322.77 686.31,328 688.08,371.24 689.32,321.71 689.85,326.67 691.62,371.35 692.87,322.03 693.41,326.96 695.21,370.8 696.44,321.16 696.98,326.12 698.74,368.39 700.02,320.48 700.56,325.27 702.38,369.3 703.62,322.39 704.15,327.08 705.91,370 707.14,319.75 707.66,324.77 709.41,370.87 710.67,319.18 711.22,324.35 713.02,369.76 714.28,319.59 714.82,324.61 716.62,371.11 717.89,322.74 718.44,327.57 720.25,369.82 721.51,321.98 722.04,326.76 723.84,370.01 725.08,319.38 725.62,324.44 727.4,369.75 728.65,324.11 729.19,328.67 730.97,369.76 732.23,322.22 732.78,326.97 734.58,370.12 735.85,317.67 736.39,322.92 738.2,368.49 739.46,317.38" fill="none" stroke="#949494" stroke-width="0.7" stroke-linejoin="miter" stroke-miterlimit="2"/>
<polyline points="467,410.65 467.8,410.88 468.6,406.7 469.4,407.01 470.2,412.4 471,410.94 471.8,413.14 472.6,411.84 473.4,408.39 474.2,412.16 475,411.37 475.8,411.19 476.6,409.51 477.4,411.36 478.2,411.18 479,413.22 479.8,412.42 480.6,414.61 481.4,411.26 482.2,413.89 483,414.3 483.8,412.13 484.6,411.36 485.4,414.69 486.2,413.92 487,412.33 487.8,412.96 488.6,410.8 489.4,411.53 490.2,409.93 491,411.73 491.8,412.82 492.6,410.42 493.4,411.91 494.2,408.55 495,409.31 495.8,406.97 496.6,408.17 497.4,407.95 498.2,407.45 499,407.4 499.8,410.15 500.6,410.67 501.4,405.45 502.2,409.63 503,404.8 503.8,406.49 504.6,407.04 505.4,408.11 506.2,406.43 507,407.45 507.8,408.97 508.6,408.24 509.4,408.74 510.2,410.84 511,411.6 511.8,410.03 512.6,410.22 513.4,410.52 514.2,409.76 515,409.72 515.8,409.02 516.6,412.24 517.4,411.23 518.2,410.49 519,411.06 519.8,411.31 520.6,413.09 521.4,409.89 522.2,409.06 523,410.28 523.8,408.49 524.6,412.42 525.4,411.77 526.2,411.08 527,409.67 527.8,410.93 528.6,411.28 529.4,410.66 530.2,409.35 531,406.64 531.8,411.01 532.6,409.06 533.4,408.09 534.2,411.16 535,410.59 535.8,407.72 536.6,410.43 537.4,409.98 538.2,412.63 539,407.73 539.8,409.85 540.6,409.9 541.4,413.22 542.2,409.39 543,405.74 543.8,408.46 544.6,411.46 545.4,412.33 546.2,413.73 547,411.32 547.8,409.9 548.6,413.08 549.4,411.28 550.2,410.66 551,410.88 551.8,412.9 552.6,408.91 553.4,408.82 554.2,410.21 555,410.07 555.8,408.74 556.6,407.88 557.4,410.58 558.2,412.26 559,411.09 559.8,411.18 560.6,411.85 561.4,406.54 562.2,407.59 563,408.57 563.8,407.89 564.6,408.17 565.4,410.38 566.2,408.77 567,411.91 567.8,410.45 568.6,412.56 569.4,415.62 570.2,410.98 571,411.64 571.8,411.49 572.6,408.52 573.4,409.19 574.2,407.89 575,408.19 575.8,405.7 576.6,405.54 577.4,406.79 578.2,408.16 579,410.66 579.8,410.21 580.6,410.2 581.4,410.34 582.2,411.87 583,409.65 583.8,413.22 584.6,408.44 585.4,409.51 586.2,412.31 587,411.51 587.8,409.39 588.6,410.32 589.4,409.57 590.2,412.1 591,411.08 591.8,408.68 592.6,411.15 593.4,410.01 594.2,410.35 595,409.91 595.8,408.73 596.6,410.05 597.4,410.46 598.2,410.69 599,412.27 599.8,410 600.6,407.98 601.4,410.01 602.2,411.1 603,410.59 603.8,411.1 604.6,411.74 605.4,410.3 606.2,410.29 607,408.58 607.8,411.8 608.6,409.55 609.4,407.77 610.2,407.57 611,409.14 611.8,413.26 612.6,411.57 613.4,407.44 614.2,409.9 615,410.89 615.8,411.64 616.6,411.46 617.4,409.55 618.2,411.36 619,409.72 619.8,406.6 620.6,409.31 621.4,408.96 622.2,411.68 623,412.28 623.8,408.9 624.6,410.37 625.4,409.79 626.2,406.76 627,406.21 627.8,410 628.6,410.94 629.4,409.1 630.2,405.23 631,409.73 631.8,408.76 632.6,408.27 633.4,409.3 634.2,407.7 635,410.5 635.8,409.67 636.6,408.6 637.4,409.94 638.2,409.67 639,406.57 639.8,408.8 640.6,408.38 641.4,406.35 642.2,408.48 643,410.16 643.8,408.21 644.6,412.09 645.4,412.75 646.2,409.69 647,410.88 647.8,412.97 648.6,408.76 649.4,408.63 650.2,410.22 651,409.38 651.8,411.24 652.6,413.88 653.4,411.61 654.2,411.23 655,411.24 655.8,408.81 656.6,409.97 657.4,409.9 658.2,409.03 659,409.02 659.8,411.04 660.6,410.21 661.4,410.69 662.2,411.87 663,411.67 663.8,408.2 664.6,408.76 665.4,409.57 666.2,410.07 667,411.36 667.8,408.01 668.6,409.04 669.4,409.56 670.2,411.15 671,411.58 671.8,407.09 672.6,408.42 673.4,407.17 674.2,410.37 675,409.17 675.8,407.84 676.6,407.06 677.4,408.82 678.2,410.14 679,407.77 679.8,408.62 680.6,409.03 681.4,409.01 682.2,409.42 683,407.34 683.8,408.12 684.6,405.51 685.4,409.44 686.2,411.25 687,406.57 687.8,409.2 688.6,411.84 689.4,409.99 690.2,406.92 691,412.06 691.8,407.59 692.6,412.26 693.4,409.12 694.2,408.64 695,410.28 695.8,410.41 696.6,412.04 697.4,411.77 698.2,410.63 699,412.24 699.8,411.3 700.6,411.2 701.4,410.67 702.2,410.42 703,410.47 703.8,412.04 704.6,411.25 705.4,410.33 706.2,412.11 707,410.41 707.8,411.25 708.6,411.74 709.4,408.88 710.2,410.36 711,413.87 711.8,409.65 712.6,413.65 713.4,409.74 714.2,412.68 715,410.04 715.8,410.53 716.6,410.41 717.4,410.05 718.2,412.85 719,412.89 719.8,413.56 720.6,414.08 721.4,418.38 722.2,417.28 723,414.48 723.8,410.31 724.6,413.05 725.4,413.17 726.2,411.87 727,411.23 727.8,410.34 728.6,407.65 729.4,408.91 730.2,409.63 731,410.97 731.8,410.63 732.6,410.65 733.4,411.84 734.2,413.54 735,414.89 735.8,410.62 736.6,409.46 737.4,410.56 738.2,409.25 739,409.55" fill="none" stroke="#707070" stroke-width="0.7" stroke-linejoin="miter" stroke-miterlimit="2"/>
<polyline points="467,436.77 467.7,437.03 468.4,437.35 469.1,436.91 469.8,437.16 470.5,436.44 471.2,436.29 471.9,436 472.6,436.2 473.3,436.47 474,436.67 474.7,436.14 475.4,436.89 476.1,436.56 476.8,436.38 477.5,436.33 478.2,437.31 478.9,436.66 479.6,436.29 480.3,436.27 481,437.24 481.7,436.4 482.4,437.02 483.1,437.1 483.8,435.79 484.5,437.07 485.2,436.53 485.9,436.22 486.6,436.41 487.3,436.8 488,436.73 488.7,436.75 489.4,436.35 490.1,437.05 490.8,437.13 491.5,437.24 492.2,436.95 492.9,437.26 493.6,437.33 494.3,436.85 495,436.91 495.7,436.8 496.4,436.79 497.1,436.9 497.8,436 498.5,436.49 499.2,436.77 499.9,435.86 500.6,436.1 501.3,437.15 502,436.23 502.7,436.44 503.4,436.73 504.1,436.43 504.8,436.3 505.5,436.42 506.2,436.45 506.9,436.4 507.6,436.66 508.3,437.16 509,436.72 509.7,437.17 510.4,436.86 511.1,436.89 511.8,436.81 512.5,436.5 513.2,436.75 513.9,436.71 514.6,436.21 515.3,436.86 516,436.8 516.7,436.73 517.4,436.4 518.1,435.68 518.8,437.11 519.5,436.58 520.2,435.84 520.9,436.83 521.6,436.36 522.3,436.84 523,436.56 523.7,437 524.4,436.68 525.1,436.7 525.8,436.65 526.5,437.03 527.2,436.15 527.9,437.01 528.6,436.84 529.3,436.41 530,436.6 530.7,436.44 531.4,436.62 532.1,436.93 532.8,436.36 533.5,436.86 534.2,436.93 534.9,436.82 535.6,437.15 536.3,436.57 537,436.84 537.7,437.47 538.4,436.61 539.1,436.55 539.8,436.6 540.5,436.81 541.2,436.38 541.9,436.51 542.6,435.99 543.3,436.23 544,436.24 544.7,436.19 545.4,436.44 546.1,436.84 546.8,436.47 547.5,436.14 548.2,436.68 548.9,436.66 549.6,436.11 550.3,436.65 551,436.22 551.7,436.38 552.4,436.34 553.1,436.89 553.8,436.31 554.5,436.49 555.2,436.66 555.9,436.96 556.6,437.01 557.3,436.24 558,437.01 558.7,436.7 559.4,437.02 560.1,436.97 560.8,436.41 561.5,436.61 562.2,436.5 562.9,436.73 563.6,437.18 564.3,436.62 565,436.37 565.7,437.49 566.4,436.25 567.1,436.6 567.8,436.59 568.5,436.16 569.2,436.88 569.9,436.97 570.6,436.57 571.3,436.62 572,436.54 572.7,435.98 573.4,436.69 574.1,436.16 574.8,436.26 575.5,436.74 576.2,436.92 576.9,436.3 577.6,437 578.3,437.22 579,436.66 579.7,436.57 580.4,436.67 581.1,436.46 581.8,436.3 582.5,436.83 583.2,436.85 583.9,436.43 584.6,436.46 585.3,436.38 586,436.36 586.7,436.26 587.4,436.07 588.1,436.92 588.8,436.48 589.5,436.62 590.2,437.23 590.9,436.43 591.6,436.8 592.3,436.13 593,436.38 593.7,436.84 594.4,436.51 595.1,436.1 595.8,436.06 596.5,436.72 597.2,436.27 597.9,436.83 598.6,436.69 599.3,436.49 600,436.57 600.7,436.86 601.4,436.61 602.1,436.27 602.8,436.71 603.5,436.47 604.2,436.52 604.9,436.79 605.6,436.71 606.3,436.95 607,436.53 607.7,436.44 608.4,436.48 609.1,436.73 609.8,436.32 610.5,436.47 611.2,436.31 611.9,436.33 612.6,436.54 613.3,437.43 614,436.47 614.7,436.69 615.4,436.63 616.1,436.54 616.8,436.61 617.5,437.27 618.2,436.51 618.9,437.15 619.6,436.82 620.3,436.3 621,436.38 621.7,436.44 622.4,436.23 623.1,436.99 623.8,436.74 624.5,436.78 625.2,436.25 625.9,436.76 626.6,436.42 627.3,437.43 628,436.57 628.7,436.7 629.4,436.74 630.1,436.44 630.8,436.47 631.5,436.47 632.2,436.89 632.9,436.35 633.6,436.55 634.3,436.71 635,436.46 635.7,436.13 636.4,436.19 637.1,436.46 637.8,436.27 638.5,436.93 639.2,436.6 639.9,436.59 640.6,436.25 641.3,436.78 642,436.48 642.7,436.27 643.4,436.38 644.1,437.41 644.8,436.39 645.5,436.3 646.2,436.99 646.9,436.85 647.6,436.5 648.3,437.07 649,436.1 649.7,436.43 650.4,436.04 651.1,437.06 651.8,436.61 652.5,437.48 653.2,436.75 653.9,436.76 654.6,436.21 655.3,436.19 656,436.43 656.7,436.9 657.4,436.23 658.1,435.78 658.8,436.87 659.5,436.89 660.2,436.27 660.9,436.73 661.6,436.96 662.3,436.97 663,436.04 663.7,436.6 664.4,436.31 665.1,436.9 665.8,436.6 666.5,436.16 667.2,436.6 667.9,436.77 668.6,436.04 669.3,436.1 670,436.33 670.7,436.46 671.4,436.37 672.1,435.94 672.8,436.03 673.5,436.55 674.2,436.7 674.9,436.26 675.6,436.62 676.3,437.2 677,436.49 677.7,436.41 678.4,436.32 679.1,436.73 679.8,436.65 680.5,436.65 681.2,436.44 681.9,436.71 682.6,436.71 683.3,436.52 684,436.97 684.7,436.04 685.4,436.82 686.1,436.54 686.8,436.87 687.5,437.23 688.2,436.6 688.9,436.52 689.6,436.58 690.3,437.06 691,437.12 691.7,436.65 692.4,436.81 693.1,437.21 693.8,436.78 694.5,436.08 695.2,436.31 695.9,436.43 696.6,436.73 697.3,436.4 698,437.08 698.7,436.44 699.4,437.14 700.1,436.38 700.8,437.06 701.5,436.67 702.2,437.09 702.9,437.28 703.6,437.21 704.3,436.97 705,436.35 705.7,436.33 706.4,435.51 707.1,437.12 707.8,437.05 708.5,436.97 709.2,436.22 709.9,437.57 710.6,436.38 711.3,436.92 712,436.06 712.7,436.41 713.4,437.04 714.1,436.98 714.8,436.25 715.5,436.59 716.2,437.01 716.9,435.98 717.6,436.89 718.3,436.08 719,436.84 719.7,436.53 720.4,436.96 721.1,436.44 721.8,436.49 722.5,436.49 723.2,436.28 723.9,436.51 724.6,436.25 725.3,436.41 726,436.84 726.7,436.49 727.4,436.98 728.1,436.85 728.8,436.89 729.5,436.21 730.2,436.75 730.9,437.1 731.6,436.92 732.3,437.03 733,437.13 733.7,436.08 734.4,436.8 735.1,436.79 735.8,436.53 736.5,436.15 737.2,436.65 737.9,436.55 738.6,437.28 739.3,437.06" fill="none" stroke="#555" stroke-width="0.95" stroke-linejoin="miter" stroke-miterlimit="2"/>
<line x1="466.5" y1="286.7" x2="740" y2="286.7" stroke="#bcbcbc" stroke-width="1.3"/>
<line x1="466.5" y1="396.8" x2="740" y2="396.8" stroke="#bcbcbc" stroke-width="1.3"/>
<line x1="466.5" y1="423.2" x2="740" y2="423.2" stroke="#bcbcbc" stroke-width="1.3"/>
<line x1="466.5" y1="450" x2="740" y2="450" stroke="#bcbcbc" stroke-width="1.3"/>
<line x1="466.5" y1="286.7" x2="466.5" y2="450" stroke="#bcbcbc" stroke-width="1.3"/>
<line x1="740" y1="286.7" x2="740" y2="450" stroke="#bcbcbc" stroke-width="1.3"/>
<line x1="557.6" y1="286.7" x2="557.6" y2="290.2" stroke="#9a9a9a" stroke-width="1"/>
<line x1="557.6" y1="393.3" x2="557.6" y2="400.3" stroke="#9a9a9a" stroke-width="1"/>
<line x1="557.6" y1="419.7" x2="557.6" y2="426.7" stroke="#9a9a9a" stroke-width="1"/>
<line x1="557.6" y1="446.5" x2="557.6" y2="450" stroke="#9a9a9a" stroke-width="1"/>
<line x1="648.7" y1="286.7" x2="648.7" y2="290.2" stroke="#9a9a9a" stroke-width="1"/>
<line x1="648.7" y1="393.3" x2="648.7" y2="400.3" stroke="#9a9a9a" stroke-width="1"/>
<line x1="648.7" y1="419.7" x2="648.7" y2="426.7" stroke="#9a9a9a" stroke-width="1"/>
<line x1="648.7" y1="446.5" x2="648.7" y2="450" stroke="#9a9a9a" stroke-width="1"/>
<line x1="466.5" y1="323.3" x2="469.5" y2="323.3" stroke="#9a9a9a" stroke-width="1"/>
<line x1="737" y1="323.3" x2="740" y2="323.3" stroke="#9a9a9a" stroke-width="1"/>
<line x1="466.5" y1="359.9" x2="469.5" y2="359.9" stroke="#9a9a9a" stroke-width="1"/>
<line x1="737" y1="359.9" x2="740" y2="359.9" stroke="#9a9a9a" stroke-width="1"/>
<text x="460.9" y="292.25" font-size="15.3" text-anchor="end">110</text>
<text x="460.9" y="328.65" font-size="15.3" text-anchor="end">90</text>
<text x="460.9" y="365.55" font-size="15.3" text-anchor="end">70</text>
<text x="460.9" y="402.25" font-size="15.3" text-anchor="end">50</text>
<text x="454.2" y="415.5" font-size="15.2" text-anchor="end">EEG</text>
<text x="457" y="441.8" font-size="15.2" text-anchor="end">EMG</text>
<text x="467.2" y="466.8" font-size="15.3" text-anchor="middle">0</text>
<text x="557.5" y="466.8" font-size="15.3" text-anchor="middle">4</text>
<text x="648.5" y="466.8" font-size="15.3" text-anchor="middle">8</text>
<text x="740.3" y="466.8" font-size="15.3" text-anchor="middle">12</text>
<text x="603" y="478.4" font-size="15" text-anchor="middle">Time (s)</text>
<text transform="translate(425,341.3) rotate(-90)" font-size="15.2" text-anchor="middle">AP (mm Hg)</text>
</svg>
</body></html>
